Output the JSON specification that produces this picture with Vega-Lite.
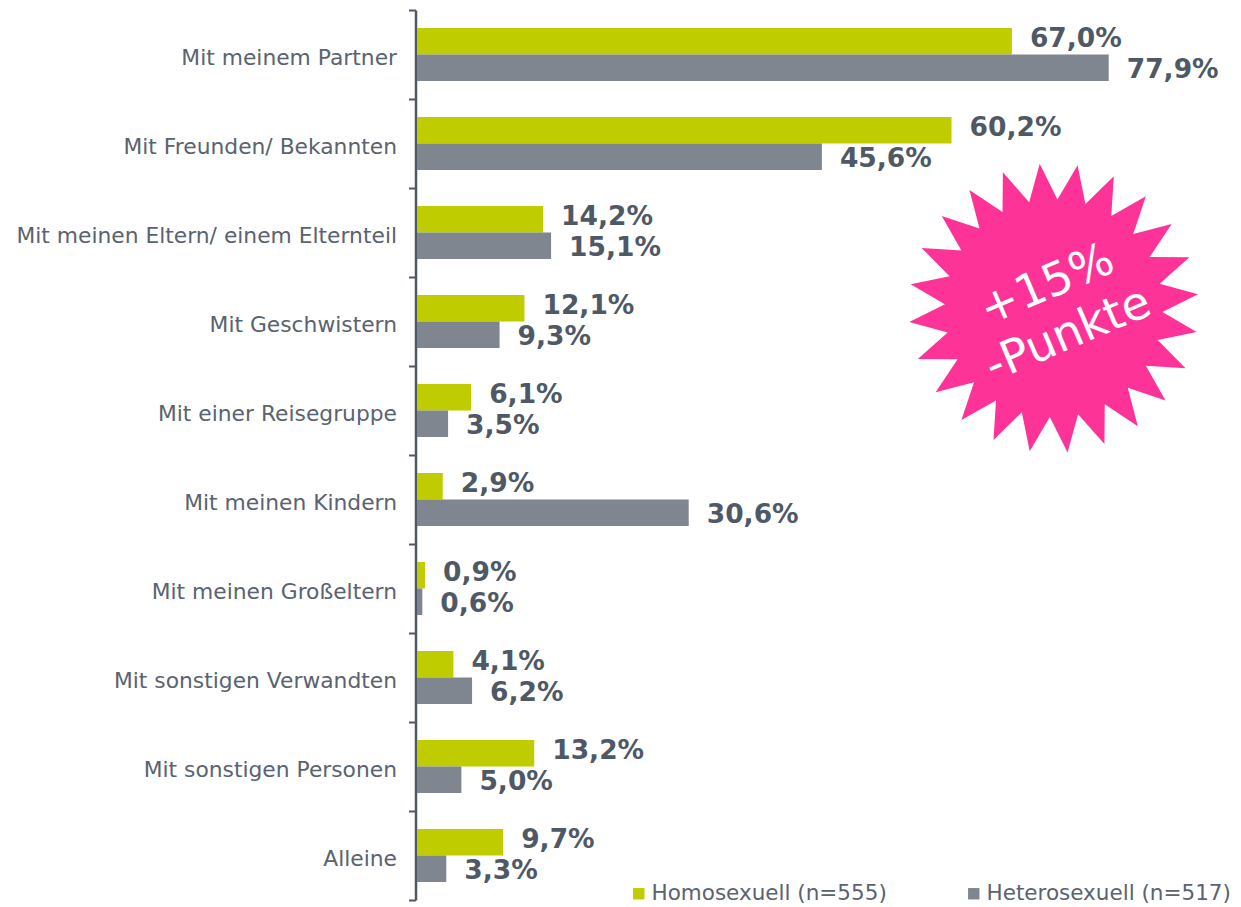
{
  "$schema": "https://vega.github.io/schema/vega-lite/v6.json",
  "width": 824,
  "height": 890,
  "autosize": "none",
  "padding": {"left": 417, "top": 10, "right": 0, "bottom": 7},
  "background": "white",
  "config": {
    "view": {"stroke": null},
    "font": "DejaVu Sans",
    "locale": {"number": {"decimal": ",", "thousands": ".", "grouping": [3], "currency": ["", " €"]}}
  },
  "datasets": {
    "main": [
      {"cat": "Mit meinem Partner", "group": "Homosexuell (n=555)", "v": 0.670},
      {"cat": "Mit meinem Partner", "group": "Heterosexuell (n=517)", "v": 0.779},
      {"cat": "Mit Freunden/ Bekannten", "group": "Homosexuell (n=555)", "v": 0.602},
      {"cat": "Mit Freunden/ Bekannten", "group": "Heterosexuell (n=517)", "v": 0.456},
      {"cat": "Mit meinen Eltern/ einem Elternteil", "group": "Homosexuell (n=555)", "v": 0.142},
      {"cat": "Mit meinen Eltern/ einem Elternteil", "group": "Heterosexuell (n=517)", "v": 0.151},
      {"cat": "Mit Geschwistern", "group": "Homosexuell (n=555)", "v": 0.121},
      {"cat": "Mit Geschwistern", "group": "Heterosexuell (n=517)", "v": 0.093},
      {"cat": "Mit einer Reisegruppe", "group": "Homosexuell (n=555)", "v": 0.061},
      {"cat": "Mit einer Reisegruppe", "group": "Heterosexuell (n=517)", "v": 0.035},
      {"cat": "Mit meinen Kindern", "group": "Homosexuell (n=555)", "v": 0.029},
      {"cat": "Mit meinen Kindern", "group": "Heterosexuell (n=517)", "v": 0.306},
      {"cat": "Mit meinen Großeltern", "group": "Homosexuell (n=555)", "v": 0.009},
      {"cat": "Mit meinen Großeltern", "group": "Heterosexuell (n=517)", "v": 0.006},
      {"cat": "Mit sonstigen Verwandten", "group": "Homosexuell (n=555)", "v": 0.041},
      {"cat": "Mit sonstigen Verwandten", "group": "Heterosexuell (n=517)", "v": 0.062},
      {"cat": "Mit sonstigen Personen", "group": "Homosexuell (n=555)", "v": 0.132},
      {"cat": "Mit sonstigen Personen", "group": "Heterosexuell (n=517)", "v": 0.050},
      {"cat": "Alleine", "group": "Homosexuell (n=555)", "v": 0.097},
      {"cat": "Alleine", "group": "Heterosexuell (n=517)", "v": 0.033}
    ],
    "badge": [
      {"cat": "Mit Geschwistern", "x": 0.717, "tx": 0.7095, "label": "+15%\n-Punkte"}
    ]
  },
  "layer": [
    {
      "data": {"name": "main"},
      "mark": {"type": "bar"},
      "encoding": {
        "x": {"field": "v", "type": "quantitative", "scale": {"domain": [0, 0.928], "nice": false, "zero": true}, "axis": null},
        "y": {
          "field": "cat", "type": "nominal",
          "scale": {"domain": ["Mit meinem Partner", "Mit Freunden/ Bekannten", "Mit meinen Eltern/ einem Elternteil", "Mit Geschwistern", "Mit einer Reisegruppe", "Mit meinen Kindern", "Mit meinen Großeltern", "Mit sonstigen Verwandten", "Mit sonstigen Personen", "Alleine"], "paddingInner": 0, "paddingOuter": 0},
          "axis": {
            "title": null, "tickBand": "extent", "grid": false,
            "domainColor": "#4f5966", "domainWidth": 2.5,
            "tickColor": "#4f5966", "tickWidth": 2, "tickSize": 7, "offset": 1.5,
            "labelFont": "DejaVu Sans", "labelFontSize": 21.8, "labelColor": "#5a6370",
            "labelPadding": 12, "labelLimit": 700, "labelOffset": 3
          }
        },
        "yOffset": {"field": "group", "type": "nominal", "sort": ["Homosexuell (n=555)", "Heterosexuell (n=517)"], "scale": {"paddingOuter": 0.68, "paddingInner": 0}},
        "color": {
          "field": "group", "type": "nominal",
          "scale": {"domain": ["Homosexuell (n=555)", "Heterosexuell (n=517)"], "range": ["#bfcd00", "#7f868f"]},
          "legend": {
            "title": null, "orient": "none", "direction": "horizontal", "legendX": 211, "legendY": 873,
            "symbolType": "square", "symbolSize": 130, "symbolStrokeWidth": 0,
            "labelFont": "DejaVu Sans", "labelFontSize": 21.5, "labelColor": "#5a6370",
            "labelOffset": 2, "labelLimit": 500, "columnPadding": 76, "gridAlign": "none", "padding": 0
          }
        }
      }
    },
    {
      "data": {"name": "main"},
      "transform": [{"filter": "datum.group == 'Homosexuell (n=555)'"}],
      "mark": {"type": "text", "align": "left", "baseline": "middle", "dx": 18, "dy": -2, "fontSize": 26.5, "fontWeight": "bold", "color": "#4f5966", "font": "DejaVu Sans"},
      "encoding": {
        "x": {"field": "v", "type": "quantitative", "scale": {"domain": [0, 0.928], "nice": false, "zero": true}},
        "y": {"field": "cat", "type": "nominal", "scale": {"domain": ["Mit meinem Partner", "Mit Freunden/ Bekannten", "Mit meinen Eltern/ einem Elternteil", "Mit Geschwistern", "Mit einer Reisegruppe", "Mit meinen Kindern", "Mit meinen Großeltern", "Mit sonstigen Verwandten", "Mit sonstigen Personen", "Alleine"]}},
        "yOffset": {"field": "group", "type": "nominal", "sort": ["Homosexuell (n=555)", "Heterosexuell (n=517)"]},
        "text": {"field": "v", "type": "quantitative", "format": ".1%"}
      }
    },
    {
      "data": {"name": "main"},
      "transform": [{"filter": "datum.group == 'Heterosexuell (n=517)'"}],
      "mark": {"type": "text", "align": "left", "baseline": "middle", "dx": 18, "dy": 2, "fontSize": 26.5, "fontWeight": "bold", "color": "#4f5966", "font": "DejaVu Sans"},
      "encoding": {
        "x": {"field": "v", "type": "quantitative", "scale": {"domain": [0, 0.928], "nice": false, "zero": true}},
        "y": {"field": "cat", "type": "nominal", "scale": {"domain": ["Mit meinem Partner", "Mit Freunden/ Bekannten", "Mit meinen Eltern/ einem Elternteil", "Mit Geschwistern", "Mit einer Reisegruppe", "Mit meinen Kindern", "Mit meinen Großeltern", "Mit sonstigen Verwandten", "Mit sonstigen Personen", "Alleine"]}},
        "yOffset": {"field": "group", "type": "nominal", "sort": ["Homosexuell (n=555)", "Heterosexuell (n=517)"]},
        "text": {"field": "v", "type": "quantitative", "format": ".1%"}
      }
    },
    {
      "data": {"name": "badge"},
      "mark": {"type": "point", "filled": true, "opacity": 1, "color": "#fd3398", "strokeWidth": 0, "size": 84100, "angle": 9.5,
        "shape": "M0,-1L0.098,-0.744L0.259,-0.966L0.287,-0.693L0.5,-0.866L0.457,-0.595L0.707,-0.707L0.595,-0.457L0.866,-0.5L0.693,-0.287L0.966,-0.259L0.744,-0.098L1,0L0.744,0.098L0.966,0.259L0.693,0.287L0.866,0.5L0.595,0.457L0.707,0.707L0.457,0.595L0.5,0.866L0.287,0.693L0.259,0.966L0.098,0.744L0,1L-0.098,0.744L-0.259,0.966L-0.287,0.693L-0.5,0.866L-0.457,0.595L-0.707,0.707L-0.595,0.457L-0.866,0.5L-0.693,0.287L-0.966,0.259L-0.744,0.098L-1,0L-0.744,-0.098L-0.966,-0.259L-0.693,-0.287L-0.866,-0.5L-0.595,-0.457L-0.707,-0.707L-0.457,-0.595L-0.5,-0.866L-0.287,-0.693L-0.259,-0.966L-0.098,-0.744Z"},
      "encoding": {
        "x": {"field": "x", "type": "quantitative", "scale": {"domain": [0, 0.928], "nice": false, "zero": true}},
        "y": {"field": "cat", "type": "nominal", "bandPosition": 0.35, "scale": {"domain": ["Mit meinem Partner", "Mit Freunden/ Bekannten", "Mit meinen Eltern/ einem Elternteil", "Mit Geschwistern", "Mit einer Reisegruppe", "Mit meinen Kindern", "Mit meinen Großeltern", "Mit sonstigen Verwandten", "Mit sonstigen Personen", "Alleine"]}}
      }
    },
    {
      "data": {"name": "badge"},
      "mark": {"type": "text", "align": "center", "baseline": "middle", "angle": 337, "fontSize": 46, "lineHeight": 54, "lineBreak": "\n", "color": "white", "font": "DejaVu Sans"},
      "encoding": {
        "x": {"field": "tx", "type": "quantitative", "scale": {"domain": [0, 0.928], "nice": false, "zero": true}},
        "y": {"field": "cat", "type": "nominal", "bandPosition": 0.09, "scale": {"domain": ["Mit meinem Partner", "Mit Freunden/ Bekannten", "Mit meinen Eltern/ einem Elternteil", "Mit Geschwistern", "Mit einer Reisegruppe", "Mit meinen Kindern", "Mit meinen Großeltern", "Mit sonstigen Verwandten", "Mit sonstigen Personen", "Alleine"]}},
        "text": {"field": "label", "type": "nominal"}
      }
    }
  ]
}
